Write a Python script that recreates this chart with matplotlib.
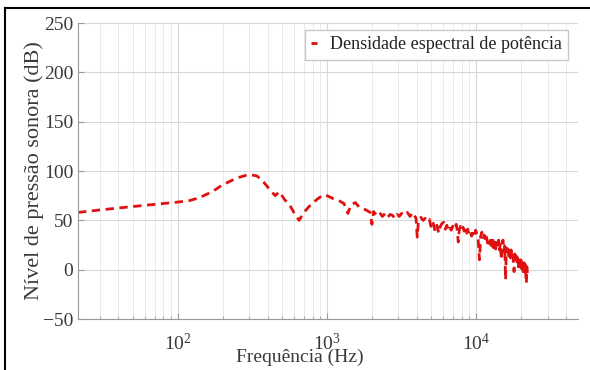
import numpy as np
import matplotlib
matplotlib.use('Agg')
import matplotlib.pyplot as plt
from matplotlib.lines import Line2D
from matplotlib.ticker import LogLocator, NullFormatter

plt.rcParams['font.family'] = ['Liberation Serif', 'DejaVu Serif']
plt.rcParams['mathtext.fontset'] = 'custom'
plt.rcParams['mathtext.rm'] = 'Liberation Serif'
plt.rcParams['mathtext.it'] = 'Liberation Serif:italic'

# spectrum (Hz, dB)
freq_hz = [21.5, 30, 50, 80, 100, 120, 140, 170, 200, 250, 300, 340, 380, 420, 450,
           480, 520, 560, 600, 650, 700, 780, 870, 950, 1000, 1100, 1200, 1300, 1380,
           1450, 1550, 1650, 1800, 1950,
           2000, 2050, 2150, 2250, 2350, 2450, 2550, 2650, 2750, 2850, 2950, 3050,
           3150, 3300, 3450, 3600, 3750, 3850, 3950, 4020, 4100, 4250, 4400, 4550,
           4700, 4850, 5000, 5150, 5300, 5450, 5600, 5750, 5900, 6050, 6200, 6350,
           6500, 6650, 6800, 6950, 7100, 7340, 7450, 7570, 7700, 7850, 8000, 8150,
           8300, 8450, 8600, 8750, 8900, 9100, 9300, 9500, 9700, 9900, 10100, 10300,
           10500, 10700, 10900, 11100, 11300, 11500, 11700, 11900, 12100, 12300,
           12500, 12700, 12900, 13100, 13300, 13500, 13700, 13900, 14100, 14300,
           14500, 14700, 14900, 15100, 15300, 15500, 15700, 15900, 16100, 16300,
           16500, 16700, 16900, 17100, 17300, 17500, 17700, 17900, 18100, 18300,
           18500, 18700, 18900, 19100, 19300, 19500, 19700, 19900, 20100, 20300,
           20500, 20700, 20900, 21100, 21300, 21500, 21650, 21800, 22050]
level_db = [58, 60.5, 64, 67, 68.5, 70, 73, 79, 86, 93, 96.5, 95, 88, 80, 75,
            79, 71, 66, 58, 50, 58, 66, 72, 76, 75, 72, 70, 67, 57,
            66, 68, 63, 61, 58,
            46, 59, 55, 58, 54, 57, 53, 56, 55, 52, 56, 54,
            57, 55, 58, 54, 58, 55, 52, 33, 50, 53, 50, 52,
            49, 51, 42, 47, 39, 45, 37, 44, 47, 48, 41, 45,
            39, 42, 40, 44, 41, 46, 40, 28, 41, 44, 40, 43,
            39, 42, 37, 41, 36, 39, 34, 37, 33, 40, 36, 30,
            10, 34, 38, 31, 35, 29, 33, 27, 32, 26,
            31, 24, 30, 22, 28, 21, 29, 24, 30, 20,
            27, 10, 28, 30, 18, 24, -10, 22, 16, 21,
            13, 19, 12, 20, 14, 18, 8, -2, 16, 10,
            14, 5, 12, 3, 11, 4, 10, 2, 9, 0,
            8, -4, 7, -2, 5, -8, -14, 3, -5]

legend_label = 'Densidade espectral de potência'
y_ticks = [-50, 0, 50, 100, 150, 200, 250]

text_col = '#3a3a3a'

fig = plt.figure(figsize=(5.9, 3.7), dpi=100)
ax = fig.add_axes([0.1322, 0.1378, 0.8475, 0.80])

ax.semilogx(freq_hz, level_db, '--', color='#e01010', linewidth=2.0,
            dashes=(3, 2), label=legend_label)

ax.set_xlim(21.5, 48000)
ax.set_ylim(-50, 250)
ax.set_yticks(y_ticks)
ax.xaxis.set_major_locator(LogLocator(base=10))
ax.xaxis.set_minor_locator(LogLocator(base=10, subs=np.arange(2, 10)))
ax.xaxis.set_minor_formatter(NullFormatter())

ax.grid(True, which='major', color='#d8d8d8', linewidth=0.8)
ax.grid(True, which='minor', axis='x', color='#e8e8e8', linewidth=0.6)
ax.set_axisbelow(True)

for s in ['top', 'right']:
    ax.spines[s].set_visible(False)
for s in ['left', 'bottom']:
    ax.spines[s].set_color('#9a9a9a')
    ax.spines[s].set_linewidth(0.8)

ax.tick_params(which='both', direction='in', colors='#9a9a9a', labelcolor=text_col,
               labelsize=14)
ax.tick_params(axis='x', which='major', pad=10)
ax.tick_params(which='major', length=4)
ax.tick_params(which='minor', length=2)

ax.set_xlabel('Frequência (Hz)', fontsize=14, color=text_col)
ax.xaxis.set_label_coords(0.444, -0.10)
ax.set_ylabel('Nível de pressão sonora (dB)', fontsize=16, color=text_col, labelpad=-1)

leg = ax.legend(loc='upper right', bbox_to_anchor=(0.98, 0.976), fontsize=13,
                handlelength=0.35, handletextpad=0.7, fancybox=False,
                framealpha=1, edgecolor='#c8c8c8', borderpad=0.35, borderaxespad=0)
for t in leg.get_texts():
    t.set_color('#222222')

# outer black border (top and left edges visible)
fig.add_artist(Line2D([0.0085, 1.0], [0.978, 0.978], color='black', linewidth=1.5,
                      transform=fig.transFigure))
fig.add_artist(Line2D([0.0085, 0.0085], [0.0, 0.978], color='black', linewidth=1.5,
                      transform=fig.transFigure))

fig.savefig('out.png', dpi=100)
